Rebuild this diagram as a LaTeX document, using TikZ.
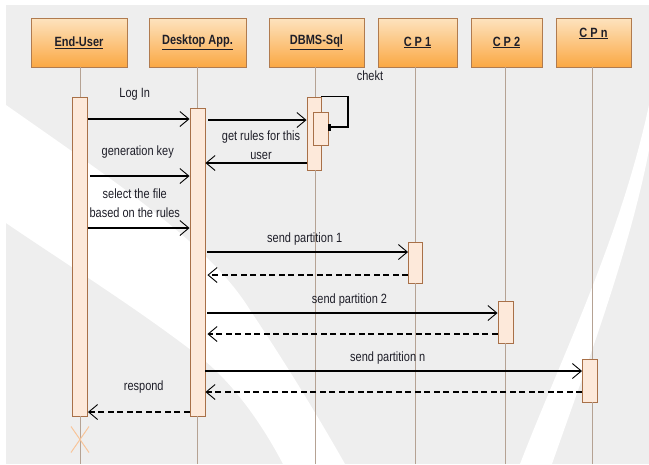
\documentclass[tikz,border=0pt]{standalone}
\usepackage{fontspec}
\setmainfont{Liberation Sans}[FakeStretch=0.82]
\usetikzlibrary{arrows.meta,positioning,shapes.misc}

\definecolor{bggrey}{HTML}{EEEEEE}
\definecolor{headtop}{HTML}{FDE3BF}
\definecolor{headbot}{HTML}{FBA843}
\definecolor{headline}{HTML}{B07B4F}
\definecolor{barfill}{HTML}{FDE9DA}
\definecolor{barline}{HTML}{A87048}
\definecolor{lifecol}{HTML}{B5A293}
\definecolor{killcol}{HTML}{F8C59A}
\definecolor{txtcol}{HTML}{1E1E28}

\tikzset{
  headtext/.style={inner sep=0pt, text=txtcol, font=\bfseries\fontsize{13.4}{15}\selectfont},
  head/.style={headtext, draw=headline, line width=0.9pt, top color=headtop, bottom color=headbot,
    minimum height=49pt},
  lifeline/.style={draw=lifecol, line width=1pt},
  actbar/.style={draw=barline, fill=barfill, line width=0.9pt, minimum width=15pt, inner sep=0pt},
  msg/.style={draw=black, line width=1.1pt, -{Straight Barb[length=9pt,width=15pt,line width=0.9pt]}},
  reply/.style={msg, dash pattern=on 6pt off 3.5pt},
  selfmsg/.style={draw=black, line width=1.1pt, -{Rectangle[length=3pt,width=7pt]}},
  lbl/.style={inner sep=0pt, text=txtcol, font=\fontsize{13.4}{19}\selectfont, align=center}
}

\begin{document}
\begin{tikzpicture}[x=1pt, y=-1pt]
\useasboundingbox (0,0) rectangle (649,464);

% backdrop
\fill[bggrey] (6,5) rectangle (649,464);
\fill[white] (6,105) .. controls (120,185) and (210,245) .. (250,310) .. controls (290,370) and (320,420) .. (345,464)
  -- (283,464) .. controls (260,420) and (230,380) .. (200,357) .. controls (140,310) and (60,260) .. (6,223) -- cycle;
\fill[white] (520,464) .. controls (560,360) and (620,240) .. (649,105) -- (649,150)
  .. controls (630,250) and (585,370) .. (552,464) -- cycle;

\coordinate (bottom) at (0,464);

% lifeline heads
\node[head, minimum width=96pt] (eu) at (79,42.5) {\underline{End-User}};
\node[head, minimum width=97pt] (da) at (197.5,42.5) {\underline{Desktop App.}};
\node[head, minimum width=95pt] (db) at (316.5,42.5) {\underline{DBMS-Sql}};
\node[head, minimum width=79pt] (cp1) at (417.5,42.5) {\underline{C P 1}};
\node[head, minimum width=71pt] (cp2) at (506.5,42.5) {\underline{C P 2}};
\node[head, minimum width=75pt] (cpn) at (593.5,42.5) {};
\node[headtext] (cpnText) at ([yshift=9pt]cpn.center) {\underline{C P n}};

% activation bars
\node[actbar, minimum height=319pt] (euBar) at (80,256.5) {};
\node[actbar, minimum height=308pt] (daBar) at (197.5,262) {};
\node[actbar, minimum width=14pt, minimum height=73pt] (dbBar) at (314,133.5) {};
\node[actbar, minimum height=33pt] (dbSelf) at (320.5,128.5) {};
\node[actbar, minimum width=14pt, minimum height=41pt] (cp1Bar) at (415.5,262.5) {};
\node[actbar, minimum height=42pt] (cp2Bar) at (505.5,322) {};
\node[actbar, minimum height=43pt] (cpnBar) at (590,380.5) {};

% lifelines
\draw[lifeline] (euBar |- eu.south) -- (euBar.north);
\draw[lifeline] (euBar.south) -- (euBar |- bottom);
\draw[lifeline] (daBar |- da.south) -- (daBar.north);
\draw[lifeline] (daBar.south) -- (daBar |- bottom);
\draw[lifeline] ([xshift=1.5pt]dbBar.north |- db.south) -- ([xshift=1.5pt]dbBar.north);
\draw[lifeline] ([xshift=1.5pt]dbBar.south) -- ([xshift=1.5pt]dbBar.south |- bottom);
\draw[lifeline] (cp1Bar |- cp1.south) -- (cp1Bar.north);
\draw[lifeline] (cp1Bar.south) -- (cp1Bar |- bottom);
\draw[lifeline] (cp2Bar |- cp2.south) -- (cp2Bar.north);
\draw[lifeline] (cp2Bar.south) -- (cp2Bar |- bottom);
\draw[lifeline] ([xshift=2pt]cpnBar.north |- cpn.south) -- ([xshift=2pt]cpnBar.north);
\draw[lifeline] ([xshift=2pt]cpnBar.south) -- ([xshift=2pt]cpnBar.south |- bottom);

% message rows
\coordinate (m1) at (0,119);
\coordinate (m2) at (0,120);
\coordinate (m3) at (0,163);
\coordinate (m4) at (0,176);
\coordinate (m5) at (0,228);
\coordinate (m6) at (0,252);
\coordinate (m7) at (0,275);
\coordinate (m8) at (0,313);
\coordinate (m9) at (0,334);
\coordinate (m10) at (0,371);
\coordinate (m11) at (0,392);
\coordinate (m12) at (0,412);
\coordinate (loop) at (348,127);

\draw[msg] (euBar.east |- m1) -- node[lbl, above=18.4pt, xshift=-4pt] {Log In} (daBar.west |- m1);
\draw[msg] ([xshift=3pt]daBar.east |- m2) -- (dbBar.west |- m2);
\draw[msg] (dbBar.west |- m3) -- node[lbl, above=3pt, xshift=5pt] {get rules for this\\user} (daBar.east |- m3);
\draw[selfmsg] (dbBar.north east) -| (loop) -- (dbSelf.east |- loop);
\node[lbl] (chekt) at (370,76) {chekt};
\draw[msg] ([xshift=2pt]euBar.east |- m4) -- node[lbl, above=17.4pt, xshift=-2pt] {generation key} (daBar.west |- m4);
\draw[msg] (euBar.east |- m5) -- node[lbl, above=10pt, xshift=-4pt] {select the file\\based on the rules} (daBar.west |- m5);
\draw[msg] ([xshift=2pt]daBar.east |- m6) -- node[lbl, above=6.4pt, xshift=-3pt] {send partition 1} (cp1Bar.west |- m6);
\draw[reply] (cp1Bar.west |- m7) -- ([xshift=2pt]daBar.east |- m7);
\draw[msg] ([xshift=2pt]daBar.east |- m8) -- node[lbl, above=6.4pt, xshift=-3pt] {send partition 2} (cp2Bar.west |- m8);
\draw[reply] (cp2Bar.west |- m9) -- ([xshift=2pt]daBar.east |- m9);
\draw[msg] (daBar.east |- m10) -- node[lbl, above=6.4pt, xshift=-6pt] {send partition n} (cpnBar.west |- m10);
\draw[reply] (cpnBar.west |- m11) -- (daBar.east |- m11);
\draw[reply] (daBar.west |- m12) -- node[lbl, above=18.4pt, xshift=5pt] {respond} (euBar.east |- m12);

% end of End-User
\node[cross out, draw=killcol, line width=1pt, minimum width=17pt, minimum height=25pt, inner sep=0pt] (euKill) at (80,439.5) {};
\end{tikzpicture}
\end{document}
